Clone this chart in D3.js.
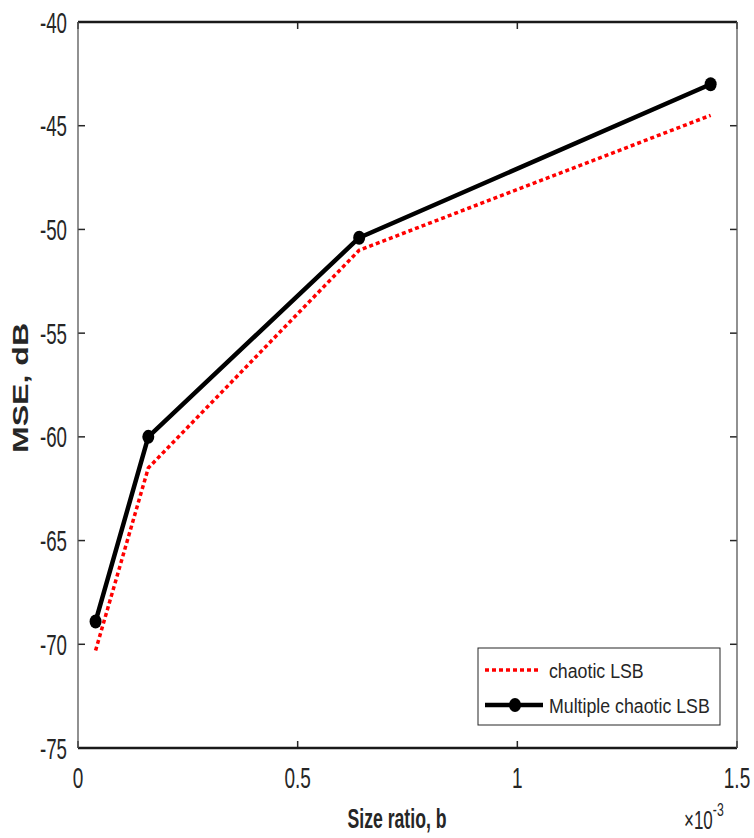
<!DOCTYPE html>
<html><head><meta charset="utf-8">
<script src="https://cdn.jsdelivr.net/npm/d3@7"></script>
<style>body{margin:0;background:#fff}svg{display:block}</style>
</head><body>
<svg id="c" width="754" height="838"></svg>
<script>
const sizeRatio = [0.04, 0.16, 0.64, 1.44];
const chaoticLSB = [-70.3, -61.5, -51.0, -44.5];
const multipleChaoticLSB = [-68.9, -60.0, -50.4, -43.0];
const xTicks = [0, 0.5, 1, 1.5];
const xTickLabels = ["0", "0.5", "1", "1.5"];
const yTicks = [-75, -70, -65, -60, -55, -50, -45, -40];
const seriesNames = ["chaotic LSB", "Multiple chaotic LSB"];

const svg = d3.select("#c");
const L = 78, R = 737, T = 22, B = 748;
const x = d3.scaleLinear().domain([0, 1.5]).range([L, R]);
const y = d3.scaleLinear().domain([-75, -40]).range([B, T]);
const font = "'Liberation Sans', Arial, sans-serif";

const g = svg.append("g");
const narrowText = (sel, px, py, txt, size, anchor, sx, weight) => {
  const t = sel.append("text")
    .attr("transform", `translate(${px},${py}) scale(${sx},1)`)
    .attr("text-anchor", anchor).attr("font-family", font)
    .attr("font-size", size).attr("fill", "#262626").text(txt);
  if (weight) t.attr("font-weight", weight);
  return t;
};

yTicks.forEach(v => {
  g.append("line").attr("x1", L).attr("x2", L + 7).attr("y1", y(v)).attr("y2", y(v)).attr("stroke", "#262626").attr("stroke-width", 1.5);
  g.append("line").attr("x1", R).attr("x2", R - 7).attr("y1", y(v)).attr("y2", y(v)).attr("stroke", "#262626").attr("stroke-width", 1.5);
  narrowText(g, L - 11, y(v) + 10.5, String(v), 29, "end", 0.645);
});
xTicks.forEach((v, i) => {
  g.append("line").attr("x1", x(v)).attr("x2", x(v)).attr("y1", B).attr("y2", B - 7).attr("stroke", "#262626").attr("stroke-width", 1.5);
  g.append("line").attr("x1", x(v)).attr("x2", x(v)).attr("y1", T).attr("y2", T + 7).attr("stroke", "#262626").attr("stroke-width", 1.5);
  narrowText(g, x(v), 788, xTickLabels[i], 29, "middle", 0.655);
});

// frame
g.append("line").attr("x1", L).attr("x2", R).attr("y1", T).attr("y2", T).attr("stroke", "#1a1a1a").attr("stroke-width", 2.5);
g.append("line").attr("x1", L).attr("x2", R).attr("y1", B).attr("y2", B).attr("stroke", "#1a1a1a").attr("stroke-width", 2.5);
g.append("line").attr("x1", L).attr("x2", L).attr("y1", T).attr("y2", B).attr("stroke", "#555").attr("stroke-width", 1.3);
g.append("line").attr("x1", R).attr("x2", R).attr("y1", T).attr("y2", B).attr("stroke", "#555").attr("stroke-width", 1.3);

// labels
narrowText(g, 397, 828, "Size ratio, b", 28, "middle", 0.63, "bold");
svg.append("text").attr("transform", "translate(28,388) rotate(-90) scale(1.46,1)")
  .attr("text-anchor", "middle").attr("font-family", font).attr("font-size", 22)
  .attr("font-weight", "bold").attr("fill", "#262626").text("MSE, dB");
const ex = narrowText(g, 684, 829, "", 25, "start", 0.68);
ex.append("tspan").text("×10");
ex.append("tspan").attr("dy", -13).attr("font-size", 18).text("-3");

const line = d3.line().x(d => x(d[0])).y(d => y(d[1]));
const redData = sizeRatio.map((v, i) => [v, chaoticLSB[i]]);
const blackData = sizeRatio.map((v, i) => [v, multipleChaoticLSB[i]]);

svg.append("path").datum(redData).attr("d", line).attr("fill", "none")
  .attr("stroke", "#ff0000").attr("stroke-width", 3.5).attr("stroke-dasharray", "4,3");
svg.append("path").datum(blackData).attr("d", line).attr("fill", "none")
  .attr("stroke", "#000").attr("stroke-width", 4.5).attr("stroke-linejoin", "round");
svg.selectAll("ellipse.m").data(blackData).enter().append("ellipse")
  .attr("cx", d => x(d[0])).attr("cy", d => y(d[1])).attr("rx", 6).attr("ry", 7).attr("fill", "#000");

// legend
const lg = svg.append("g");
lg.append("rect").attr("x", 478).attr("y", 648).attr("width", 242).attr("height", 77)
  .attr("fill", "#fff").attr("stroke", "#262626").attr("stroke-width", 1);
lg.append("line").attr("x1", 485).attr("x2", 540).attr("y1", 670).attr("y2", 670)
  .attr("stroke", "#ff0000").attr("stroke-width", 3.5).attr("stroke-dasharray", "4,3");
lg.append("line").attr("x1", 485).attr("x2", 543).attr("y1", 705).attr("y2", 705)
  .attr("stroke", "#000").attr("stroke-width", 4.5);
lg.append("ellipse").attr("cx", 515).attr("cy", 705).attr("rx", 6).attr("ry", 7).attr("fill", "#000");
narrowText(lg, 549, 678, seriesNames[0], 21, "start", 0.845);
narrowText(lg, 549, 713, seriesNames[1], 21, "start", 0.845);
</script>
</body></html>
